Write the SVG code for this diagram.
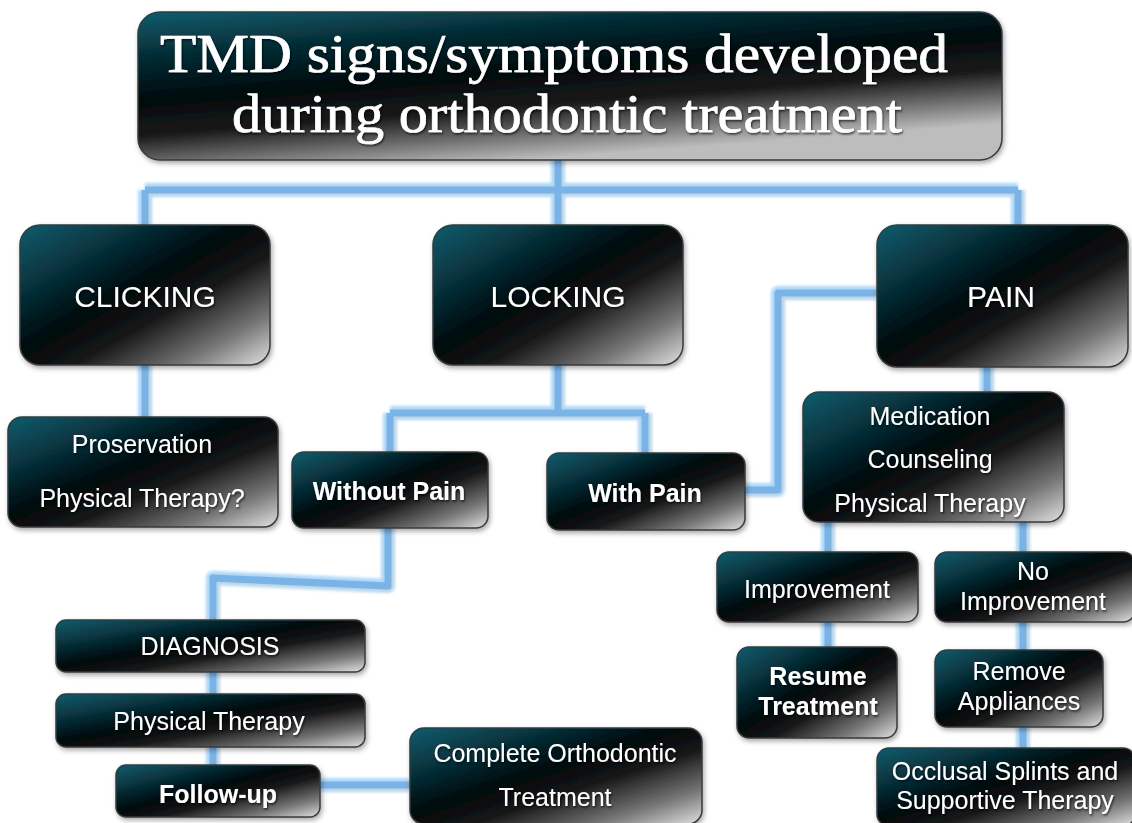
<svg xmlns="http://www.w3.org/2000/svg" width="1132" height="823" viewBox="0 0 1132 823">
<defs>
<linearGradient id="boxg" x1="0" y1="0" x2="1" y2="1">
<stop offset="0" stop-color="#0f5d6e"/>
<stop offset="0.22" stop-color="#073540"/>
<stop offset="0.45" stop-color="#020a0d"/>
<stop offset="0.6" stop-color="#151515"/>
<stop offset="0.82" stop-color="#767676"/>
<stop offset="1" stop-color="#e2e2e2"/>
</linearGradient>
<linearGradient id="titleg" x1="0" y1="0" x2="0.45" y2="1">
<stop offset="0" stop-color="#0f5d6e"/>
<stop offset="0.25" stop-color="#052d36"/>
<stop offset="0.5" stop-color="#020a0d"/>
<stop offset="0.7" stop-color="#1a1a1a"/>
<stop offset="1" stop-color="#bdbdbd"/>
</linearGradient>
<filter id="shadow" x="-10%" y="-10%" width="120%" height="130%">
<feDropShadow dx="1.5" dy="2.5" stdDeviation="2.5" flood-color="#000" flood-opacity="0.35"/>
</filter>
<filter id="glow" x="-5%" y="-5%" width="110%" height="110%">
<feGaussianBlur stdDeviation="1.8"/>
</filter>
<filter id="tshadow" x="-5%" y="-20%" width="110%" height="140%">
<feDropShadow dx="1" dy="1.5" stdDeviation="1" flood-color="#000" flood-opacity="0.7"/>
</filter>
</defs>
<style>
.box{fill:url(#boxg);stroke:#3a3a3a;stroke-width:1.5;filter:url(#shadow);}
.title{fill:url(#titleg);stroke:#3a3a3a;stroke-width:1.5;filter:url(#shadow);}
.c1{fill:none;stroke:#b4d6f2;stroke-width:14;stroke-linejoin:round;filter:url(#glow);}
.c2{fill:none;stroke:#7ab3e5;stroke-width:7;stroke-linejoin:round;}
text{font-family:"Liberation Sans",Arial,sans-serif;fill:#fff;text-anchor:middle;filter:url(#tshadow);}
.big{font-size:30px;}
.t{font-size:25px;}
.b{font-size:25px;font-weight:bold;}
.tt{font-family:"Liberation Serif","Times New Roman",serif;font-size:54px;stroke:#fff;stroke-width:0.7;}
</style>
<rect width="1132" height="823" fill="#fff"/>
<g id="connectors">
<path class="c1" d="M558 160V190M145 190H1018M145 190V225M558 190V225M1018 190V225M145 365V417M558 365V413M390 413H645M390 413V452M645 413V453M877 293H778V490H745M987 367V392M388 528V586L213 578V620M213 672V694M213 747V765M320 785H410M828 522V552M1023 522V552M828 622V647M1023 622V650M1023 727V748"/>
<path class="c2" d="M558 160V190M145 190H1018M145 190V225M558 190V225M1018 190V225M145 365V417M558 365V413M390 413H645M390 413V452M645 413V453M877 293H778V490H745M987 367V392M388 528V586L213 578V620M213 672V694M213 747V765M320 785H410M828 522V552M1023 522V552M828 622V647M1023 622V650M1023 727V748"/>
</g>
<g id="title">
<rect class="title" x="138" y="12" width="864" height="148" rx="22"/>
<text class="tt" x="554" y="72" textLength="788" lengthAdjust="spacingAndGlyphs">TMD signs/symptoms developed</text>
<text class="tt" x="567" y="132" textLength="670" lengthAdjust="spacingAndGlyphs">during orthodontic treatment</text>
</g>
<g id="clicking">
<rect class="box" x="20" y="225" width="250" height="140" rx="20"/>
<text class="big" x="145" y="307">CLICKING</text>
</g>
<g id="locking">
<rect class="box" x="433" y="225" width="250" height="140" rx="20"/>
<text class="big" x="558" y="307">LOCKING</text>
</g>
<g id="pain">
<rect class="box" x="877" y="225" width="251" height="142" rx="20"/>
<text class="big" x="1001" y="307">PAIN</text>
</g>
<g id="proservation">
<rect class="box" x="8" y="417" width="270" height="110" rx="14"/>
<text class="t" x="142" y="453">Proservation</text>
<text class="t" x="142" y="507">Physical Therapy?</text>
</g>
<g id="without-pain">
<rect class="box" x="292" y="452" width="196" height="76" rx="12"/>
<text class="b" x="389" y="500">Without Pain</text>
</g>
<g id="with-pain">
<rect class="box" x="547" y="453" width="198" height="77" rx="12"/>
<text class="b" x="645" y="502">With Pain</text>
</g>
<g id="medication">
<rect class="box" x="803" y="392" width="261" height="130" rx="16"/>
<text class="t" x="930" y="425">Medication</text>
<text class="t" x="930" y="468">Counseling</text>
<text class="t" x="930" y="512">Physical Therapy</text>
</g>
<g id="improvement">
<rect class="box" x="717" y="552" width="201" height="70" rx="12"/>
<text class="t" x="817" y="598">Improvement</text>
</g>
<g id="no-improvement">
<rect class="box" x="935" y="552" width="200" height="70" rx="12"/>
<text class="t" x="1033" y="580">No</text>
<text class="t" x="1033" y="610">Improvement</text>
</g>
<g id="resume">
<rect class="box" x="737" y="647" width="160" height="91" rx="12"/>
<text class="b" x="818" y="685">Resume</text>
<text class="b" x="818" y="715">Treatment</text>
</g>
<g id="remove">
<rect class="box" x="935" y="650" width="168" height="77" rx="12"/>
<text class="t" x="1019" y="680">Remove</text>
<text class="t" x="1019" y="710">Appliances</text>
</g>
<g id="occlusal">
<rect class="box" x="877" y="748" width="258" height="78" rx="12"/>
<text class="t" x="1005" y="780">Occlusal Splints and</text>
<text class="t" x="1005" y="809">Supportive Therapy</text>
</g>
<g id="diagnosis">
<rect class="box" x="56" y="620" width="309" height="52" rx="10"/>
<text class="t" x="210" y="655">DIAGNOSIS</text>
</g>
<g id="physical-therapy">
<rect class="box" x="56" y="694" width="309" height="53" rx="10"/>
<text class="t" x="209" y="730">Physical Therapy</text>
</g>
<g id="follow-up">
<rect class="box" x="116" y="765" width="204" height="52" rx="10"/>
<text class="b" x="218" y="803">Follow-up</text>
</g>
<g id="complete">
<rect class="box" x="410" y="728" width="292" height="96" rx="14"/>
<text class="t" x="555" y="762">Complete Orthodontic</text>
<text class="t" x="555" y="806">Treatment</text>
</g>
</svg>
